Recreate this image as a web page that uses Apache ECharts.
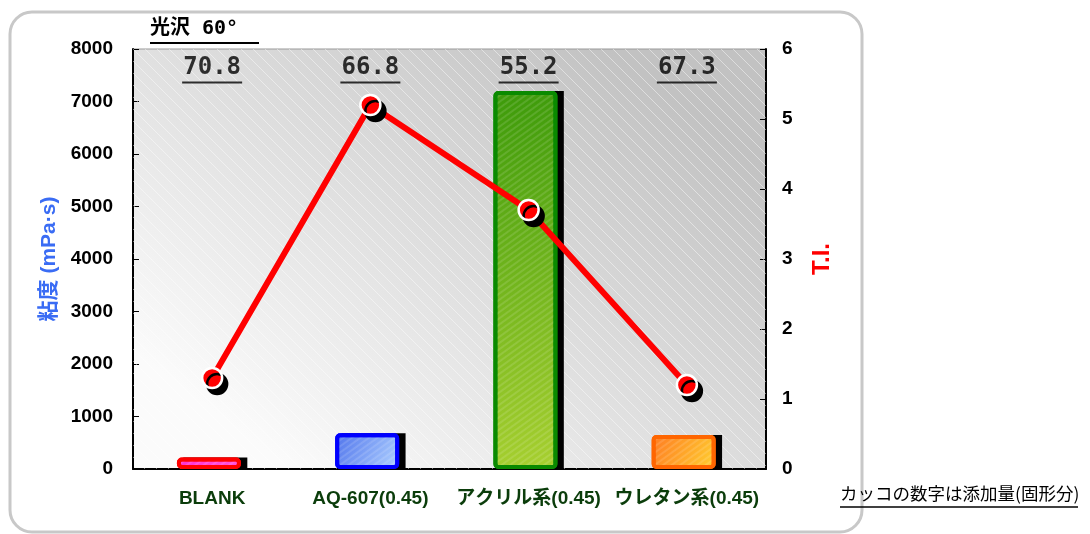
<!DOCTYPE html>
<html>
<head>
<meta charset="utf-8">
<script src="https://cdn.jsdelivr.net/npm/echarts@6/dist/echarts.min.js"></script>
<style>
  html, body { margin: 0; padding: 0; background: #fff; }
  #chart { width: 1090px; height: 534px; }
</style>
</head>
<body>
<div id="chart"></div>
<script>
const categories = ['BLANK', 'AQ-607(0.45)', 'アクリル系(0.45)', 'ウレタン系(0.45)'];
const viscosity = [220, 680, 7200, 650];
const ti = [1.3, 5.2, 3.7, 1.2];
const gloss = ['70.8', '66.8', '55.2', '67.3'];

// bar looks: border colour and gradient fill
const barLooks = [
  {border: '#ff0000', from: '#ff2fd0', to: '#ff55dd'},
  {border: '#0000ff', from: '#4f73ec', to: '#b0d2ff'},
  {border: '#0a8a00', from: '#3c9a0a', to: '#a8d030'},
  {border: '#ff6600', from: '#ff7a22', to: '#ffd030'}
];

// small tile of faint diagonal hatching for the plot area
function makeHatch() {
  const c = document.createElement('canvas');
  c.width = 12; c.height = 12;
  const ctx = c.getContext('2d');
  ctx.strokeStyle = 'rgba(255,255,255,0.45)';
  ctx.lineWidth = 1;
  ctx.beginPath();
  ctx.moveTo(-1, -1); ctx.lineTo(13, 13);
  ctx.stroke();
  return c;
}

const chart = echarts.init(document.getElementById('chart'));
const fontFamily = '"Liberation Sans", "Noto Sans CJK JP", sans-serif';
const grid = {left: 133, top: 49, width: 633, height: 420};

const option = {
  animation: false,
  backgroundColor: '#fff',
  grid: {
    left: grid.left, top: grid.top, width: grid.width, height: grid.height,
    show: true,
    borderColor: '#999',
    borderWidth: 1,
    backgroundColor: new echarts.graphic.LinearGradient(0.75, 0, 0.25, 1, [
      {offset: 0, color: '#c2c2c2'},
      {offset: 0.5, color: '#dedede'},
      {offset: 1, color: '#fbfbfb'}
    ])
  },
  graphic: [
    {type: 'rect', shape: {x: 10, y: 12, width: 852, height: 520, r: 22},
      style: {fill: 'none', stroke: '#c8c8c8', lineWidth: 3}, z: -10},
    {type: 'rect', shape: {x: grid.left, y: grid.top, width: grid.width, height: grid.height},
      style: {fill: {image: makeHatch(), repeat: 'repeat'}}, silent: true, z: 1},
    {type: 'text', left: 150, top: 19,
      style: {text: '光沢 60°', font: 'bold 20px "DejaVu Sans Mono", "Noto Sans CJK JP"', fill: '#000'}},
    {type: 'line', shape: {x1: 150, y1: 43, x2: 259, y2: 43}, style: {stroke: '#000', lineWidth: 2}},
    {type: 'text', left: 840, top: 485,
      style: {text: 'カッコの数字は添加量(固形分)', font: '17.5px "Noto Sans CJK JP", sans-serif', fill: '#000'}},
    {type: 'line', shape: {x1: 840, y1: 507, x2: 1078, y2: 507}, style: {stroke: '#000', lineWidth: 1.5}}
  ],
  xAxis: {
    type: 'category',
    data: categories,
    axisLine: {lineStyle: {color: '#000', width: 2}},
    axisTick: {inside: true, length: 6, lineStyle: {color: '#000'}},
    axisLabel: {
      interval: 0,
      margin: 20,
      color: '#0b3d0b',
      fontWeight: 'bold',
      fontSize: 19,
      fontFamily: fontFamily
    }
  },
  yAxis: [
    {
      type: 'value',
      min: 0, max: 8000, interval: 1000,
      name: '粘度 (mPa·s)',
      nameLocation: 'middle',
      nameRotate: 90,
      nameGap: 73,
      nameTextStyle: {color: '#3a6cf4', fontWeight: 'bold', fontSize: 21, fontFamily: fontFamily},
      axisLine: {show: true, lineStyle: {color: '#000', width: 2}},
      axisTick: {show: true, inside: true, length: 6, lineStyle: {color: '#000'}},
      axisLabel: {
        margin: 20, color: '#000', fontWeight: 'bold', fontSize: 19, fontFamily: fontFamily,
        formatter: v => String(v)
      },
      splitLine: {show: false}
    },
    {
      type: 'value',
      min: 0, max: 6, interval: 1,
      name: 'T.I.',
      nameLocation: 'middle',
      nameRotate: 90,
      nameGap: 44,
      nameTextStyle: {color: '#ff0000', fontWeight: 'bold', fontSize: 24, fontFamily: fontFamily},
      axisLine: {show: true, lineStyle: {color: '#000', width: 2}},
      axisTick: {show: true, inside: true, length: 6, lineStyle: {color: '#000'}},
      axisLabel: {margin: 16, color: '#000', fontWeight: 'bold', fontSize: 19, fontFamily: fontFamily},
      splitLine: {show: false}
    }
  ],
  series: [
    {
      name: '粘度',
      type: 'bar',
      barWidth: 64,
      barGap: '-90%',
      data: viscosity.map((v, i) => ({
        value: v,
        itemStyle: {
          color: new echarts.graphic.LinearGradient(0, 0, 1, 1, [
            {offset: 0, color: barLooks[i].from},
            {offset: 1, color: barLooks[i].to}
          ]),
          borderColor: barLooks[i].border,
          decal: {
            symbol: 'rect', dashArrayX: [1, 0], dashArrayY: [2, 3],
            rotation: -Math.PI / 5, color: 'rgba(255,255,255,0.12)'
          }
        }
      })),
      itemStyle: {borderWidth: 4, borderRadius: 3},
      z: 3
    },
    {
      // drop shadow behind each bar
      name: 'shadow',
      type: 'bar',
      barWidth: 64,
      data: viscosity,
      itemStyle: {color: '#000'},
      silent: true,
      z: 2
    },
    {
      name: '光沢',
      type: 'scatter',
      symbol: 'rect',
      symbolSize: [60, 2],
      data: gloss.map((g, i) => [i, 7360]),
      itemStyle: {color: '#000'},
      label: {
        show: true,
        position: 'top',
        distance: 2,
        formatter: p => gloss[p.dataIndex],
        color: '#000',
        fontWeight: 'bold',
        fontSize: 24,
        fontFamily: '"DejaVu Sans Mono", monospace'
      },
      silent: true,
      z: 4
    },
    {
      name: 'T.I.',
      type: 'line',
      yAxisIndex: 1,
      data: ti,
      symbol: 'circle',
      symbolSize: 20,
      lineStyle: {color: '#ff0000', width: 6},
      itemStyle: {
        color: '#ff0000',
        borderColor: '#fff',
        borderWidth: 2.5,
        shadowColor: '#000',
        shadowBlur: 0,
        shadowOffsetX: 5,
        shadowOffsetY: 6
      },
      z: 5
    }
  ]
};

chart.setOption(option);
</script>
</body>
</html>
